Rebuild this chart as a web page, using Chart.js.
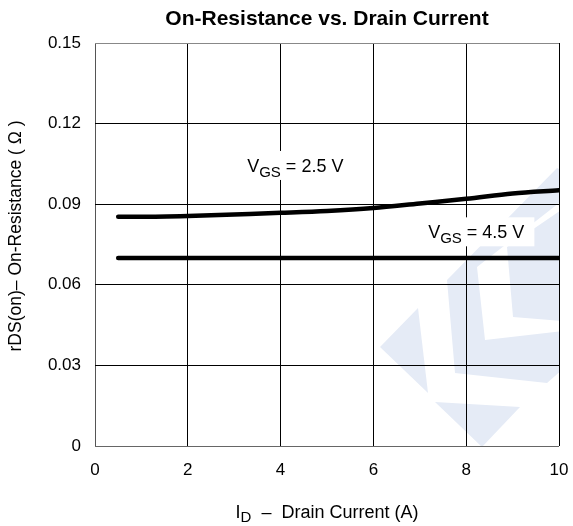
<!DOCTYPE html>
<html>
<head>
<meta charset="utf-8">
<script src="https://cdn.jsdelivr.net/npm/chart.js@4.4.1/dist/chart.umd.min.js"></script>
<style>
  html, body { margin: 0; padding: 0; background: #fff; }
  #wrap { width: 573px; height: 526px; position: relative; }
</style>
</head>
<body>
<div id="wrap"><canvas id="chart"></canvas></div>
<script>
// data
const currentA = [0.5, 1, 2, 3, 4, 5, 6, 7, 8, 9, 10];
const rdsVgs25 = [0.0853, 0.0853, 0.0856, 0.0862, 0.0868, 0.0875, 0.0886, 0.0903, 0.0920, 0.0940, 0.0952];
const currentB = [0.5, 10];
const rdsVgs45 = [0.070, 0.070];

const xTicks = [0, 2, 4, 6, 8, 10];
const yTicks = [0, 0.03, 0.06, 0.09, 0.12, 0.15];
const yTickLabels = ['0', '0.03', '0.06', '0.09', '0.12', '0.15'];

const chartTitle = 'On-Resistance vs. Drain Current';
const curveLabels = [
  { main: 'V', sub: 'GS', rest: ' = 2.5 V', x: 3.28, y: 0.102 },
  { main: 'V', sub: 'GS', rest: ' = 4.5 V', x: 7.18, y: 0.0773 }
];

const FONT = '"Liberation Sans", Arial, sans-serif';

// light blue logo shape behind the grid
const watermark = {
  id: 'watermark',
  beforeDraw(chart) {
    const ctx = chart.ctx;
    const a = chart.chartArea;
    const shapes = [
      [[447, 280], [557, 168], [573, 176], [573, 192], [477, 267], [485, 340], [573, 330], [573, 360], [547, 383], [455, 373]],
      [[507, 247], [573, 202], [573, 322], [513, 317]],
      [[380, 347], [418, 308], [428, 393]],
      [[435, 402], [520, 407], [482, 447]]
    ];
    ctx.save();
    ctx.beginPath();
    ctx.rect(a.left, a.top, a.right - a.left, a.bottom - a.top);
    ctx.clip();
    ctx.fillStyle = '#e5ebf6';
    shapes.forEach(s => {
      ctx.beginPath();
      s.forEach((p, i) => i ? ctx.lineTo(p[0], p[1]) : ctx.moveTo(p[0], p[1]));
      ctx.closePath();
      ctx.fill();
    });
    ctx.restore();
  }
};

function measureParts(ctx, parts, size, subSize) {
  let w = 0;
  parts.forEach(([t, sub]) => {
    ctx.font = (sub ? subSize : size) + 'px ' + FONT;
    w += ctx.measureText(t).width;
  });
  return w;
}

function subText(ctx, x, y, parts, size, subSize, drop) {
  let cx = x;
  parts.forEach(([t, sub]) => {
    ctx.font = (sub ? subSize : size) + 'px ' + FONT;
    ctx.fillText(t, cx, sub ? y + drop : y);
    cx += ctx.measureText(t).width;
  });
}

const texts = {
  id: 'texts',
  beforeDatasetsDraw(chart) {
    const ctx = chart.ctx;
    const xs = chart.scales.x, ys = chart.scales.y;
    ctx.save();
    ctx.textBaseline = 'alphabetic';
    ctx.textAlign = 'left';
    curveLabels.forEach(l => {
      const px = xs.getPixelForValue(l.x);
      const py = ys.getPixelForValue(l.y);
      const parts = [[l.main, false], [l.sub, true], [l.rest, false]];
      const w = measureParts(ctx, parts, 18, 15);
      ctx.fillStyle = '#fff';
      ctx.fillRect(px - 4, py - 21, w + 14, 29);
      ctx.fillStyle = '#000';
      subText(ctx, px, py, parts, 18, 15, 5);
    });
    ctx.restore();
  },
  afterDraw(chart) {
    const ctx = chart.ctx;
    const a = chart.chartArea;
    const mid = (a.left + a.right) / 2;
    ctx.save();
    ctx.fillStyle = '#000';
    ctx.textBaseline = 'alphabetic';
    ctx.textAlign = 'center';
    ctx.font = 'bold 21px ' + FONT;
    ctx.fillText(chartTitle, mid, 25);

    // x axis title with subscript
    ctx.textAlign = 'left';
    const parts = [['I', false], ['D', true], ['  \u2013  Drain Current (A)', false]];
    const w = measureParts(ctx, parts, 18, 15);
    subText(ctx, mid - w / 2, 518, parts, 18, 15, 4);

    // y axis title
    ctx.translate(16, 236);
    ctx.rotate(-Math.PI / 2);
    ctx.textAlign = 'center';
    ctx.textBaseline = 'middle';
    ctx.font = '17.5px ' + FONT;
    ctx.fillText('rDS(on)\u2013 On-Resistance ( \u03A9 )', 0, 0);
    ctx.restore();
  }
};

new Chart(document.getElementById('chart'), {
  type: 'line',
  data: {
    datasets: [
      {
        label: 'VGS = 2.5 V',
        data: currentA.map((x, i) => ({ x, y: rdsVgs25[i] })),
        borderColor: '#000',
        borderWidth: 4.5,
        borderCapStyle: 'round',
        cubicInterpolationMode: 'monotone',
        pointRadius: 0,
        fill: false
      },
      {
        label: 'VGS = 4.5 V',
        data: currentB.map((x, i) => ({ x, y: rdsVgs45[i] })),
        borderColor: '#000',
        borderWidth: 4.5,
        borderCapStyle: 'round',
        pointRadius: 0,
        fill: false
      }
    ]
  },
  options: {
    responsive: true,
    maintainAspectRatio: false,
    animation: false,
    layout: { padding: { left: 0, right: 14, top: 43, bottom: 0 } },
    plugins: {
      legend: { display: false },
      tooltip: { enabled: false },
      title: { display: false }
    },
    scales: {
      x: {
        type: 'linear',
        min: 0,
        max: 10,
        afterBuildTicks: s => { s.ticks = xTicks.map(v => ({ value: v })); },
        afterFit: s => { s.height = 80; s.paddingLeft = 0; s.paddingRight = 0; },
        ticks: {
          color: '#000',
          padding: 14,
          maxRotation: 0,
          font: { family: FONT, size: 17 },
          callback: v => String(v)
        },
        grid: {
          color: c => (c.tick && c.tick.value === 0) ? '#555' : '#000',
          lineWidth: 1,
          drawTicks: false
        },
        border: { display: false }
      },
      y: {
        type: 'linear',
        min: 0,
        max: 0.15,
        afterBuildTicks: s => { s.ticks = yTicks.map(v => ({ value: v })); },
        afterFit: s => { s.width = 95; s.paddingTop = 0; s.paddingBottom = 0; },
        ticks: {
          color: '#000',
          padding: 14,
          font: { family: FONT, size: 17 },
          callback: (v, i) => yTickLabels[i]
        },
        grid: {
          color: c => {
            if (!c.tick) return '#000';
            if (c.tick.value === 0.15) return '#888';
            if (c.tick.value === 0) return '#666';
            return '#000';
          },
          lineWidth: 1,
          drawTicks: false
        },
        border: { display: false }
      }
    }
  },
  plugins: [watermark, texts]
});
</script>
</body>
</html>
